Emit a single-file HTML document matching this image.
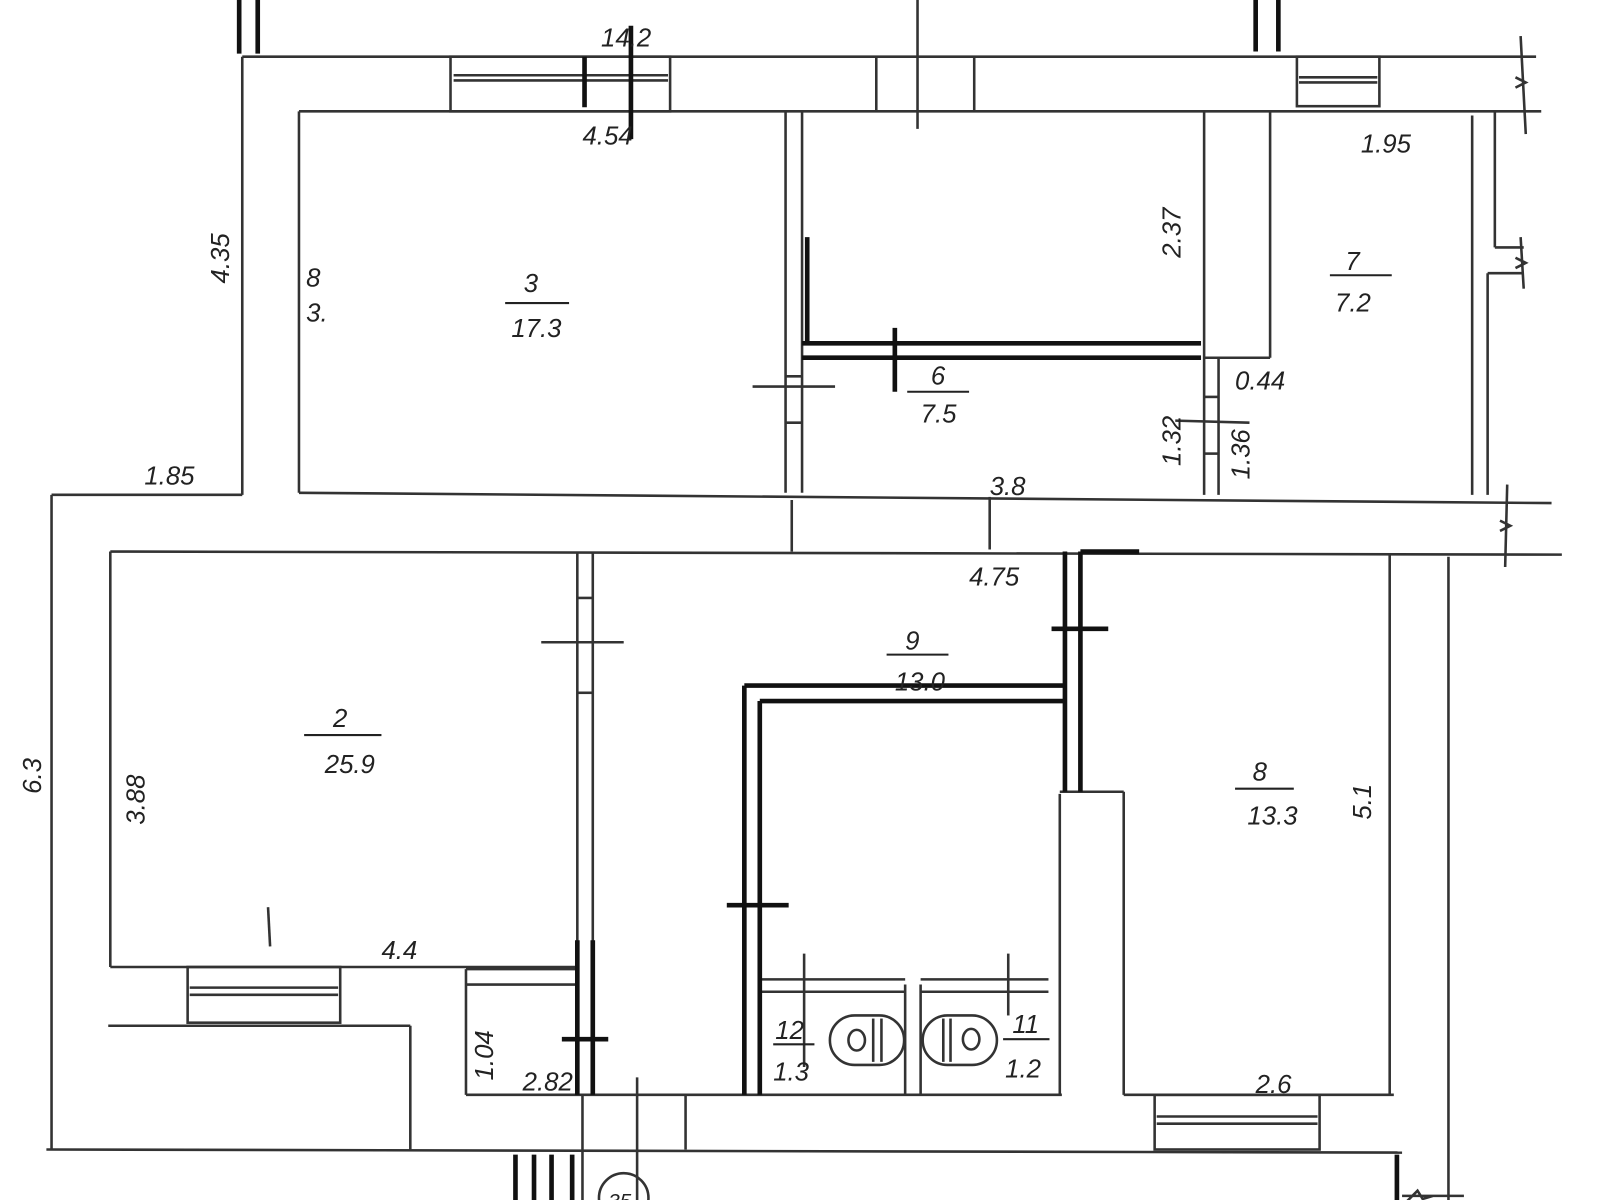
<!DOCTYPE html>
<html><head><meta charset="utf-8"><style>
html,body{margin:0;padding:0;background:#fff;width:1600px;height:1200px;overflow:hidden}
svg{display:block}
text{font-family:"Liberation Sans",sans-serif;font-style:italic;font-size:25px;fill:#222}
</style></head><body>
<svg width="1600" height="1200" viewBox="0 0 1552 1164" preserveAspectRatio="none">
<rect width="1552" height="1164" fill="#fff"/>
<g stroke="#333" stroke-width="2.5" fill="none">
<!-- top wall -->
<line x1="235" y1="55" x2="1490" y2="55"/>
<line x1="290" y1="108" x2="1495" y2="108"/>
<line x1="235" y1="55" x2="235" y2="480"/>
<line x1="290" y1="108" x2="290" y2="478"/>
<line x1="890" y1="0" x2="890" y2="125"/>
<!-- windows top -->
<rect x="437" y="55" width="213" height="53"/>
<line x1="440" y1="73" x2="648" y2="73"/><line x1="440" y1="78" x2="648" y2="78"/>
<line x1="850" y1="55" x2="850" y2="108"/><line x1="945" y1="55" x2="945" y2="108"/>
<rect x="1258" y="55" width="80" height="48"/>
<line x1="1260" y1="75" x2="1336" y2="75"/><line x1="1260" y1="80" x2="1336" y2="80"/>
<path d="M1475 35 L1480 130 M1470 75 l10 5 l-10 5 M1475 230 L1478 280 M1470 250 l10 5 l-10 5 M1462 470 L1460 550 M1455 505 l10 5 l-10 5"/>
<!-- room3 right partition -->
<line x1="762" y1="108" x2="762" y2="478"/>
<line x1="778" y1="108" x2="778" y2="478"/>
<line x1="1168" y1="108" x2="1168" y2="480"/>
<line x1="1232" y1="108" x2="1232" y2="347"/>
<line x1="1168" y1="347" x2="1232" y2="347"/>
<line x1="1182" y1="347" x2="1182" y2="480"/>
<line x1="1168" y1="385" x2="1182" y2="385"/><line x1="1168" y1="440" x2="1182" y2="440"/>
<line x1="1428" y1="112" x2="1428" y2="480"/>
<line x1="1450" y1="108" x2="1450" y2="240"/><line x1="1450" y1="240" x2="1478" y2="240"/>
<line x1="1443" y1="265" x2="1443" y2="480"/><line x1="1443" y1="265" x2="1478" y2="265"/>
<line x1="730" y1="375" x2="810" y2="375"/>
<line x1="762" y1="365" x2="778" y2="365"/><line x1="762" y1="410" x2="778" y2="410"/>
<line x1="1140" y1="408" x2="1212" y2="410"/>
<!-- corridor -->
<line x1="50" y1="480" x2="235" y2="480"/>
<line x1="290" y1="478" x2="1505" y2="488"/>
<line x1="107" y1="535" x2="1515" y2="538"/>
<line x1="50" y1="480" x2="50" y2="1115"/>
<line x1="107" y1="535" x2="107" y2="938"/>
<line x1="768" y1="485" x2="768" y2="535"/>
<line x1="960" y1="482" x2="960" y2="533"/>
<!-- room 2 -->
<line x1="107" y1="938" x2="558" y2="938"/>
<line x1="560" y1="535" x2="560" y2="938"/>
<line x1="575" y1="535" x2="575" y2="1062"/>
<line x1="560" y1="580" x2="575" y2="580"/><line x1="560" y1="672" x2="575" y2="672"/>
<line x1="525" y1="623" x2="605" y2="623"/>
<line x1="260" y1="880" x2="262" y2="918"/>
<rect x="182" y="938" width="148" height="54"/>
<line x1="184" y1="958" x2="328" y2="958"/><line x1="184" y1="965" x2="328" y2="965"/>
<line x1="105" y1="995" x2="398" y2="995"/><line x1="398" y1="995" x2="398" y2="1115"/>
<line x1="452" y1="940" x2="452" y2="1062"/><line x1="452" y1="955" x2="560" y2="955"/>
<line x1="452" y1="940" x2="558" y2="940"/>
<!-- bottom -->
<line x1="452" y1="1062" x2="1030" y2="1062"/>
<line x1="1090" y1="1062" x2="1352" y2="1062"/>
<line x1="45" y1="1115" x2="1360" y2="1118"/>
<rect x="1120" y="1062" width="160" height="53"/>
<line x1="1122" y1="1083" x2="1278" y2="1083"/><line x1="1122" y1="1090" x2="1278" y2="1090"/>
<line x1="618" y1="1045" x2="618" y2="1176"/>
<line x1="665" y1="1062" x2="665" y2="1115"/>
<line x1="565" y1="1062" x2="565" y2="1176"/>
<circle cx="605" cy="1162" r="24"/>
<!-- room 9 / 8 -->
<line x1="1028" y1="770" x2="1028" y2="1062"/>
<line x1="1028" y1="768" x2="1090" y2="768"/>
<line x1="1090" y1="768" x2="1090" y2="1062"/>
<line x1="1348" y1="538" x2="1348" y2="1062"/>
<line x1="1405" y1="540" x2="1405" y2="1176"/>
<!-- toilets -->
<line x1="737" y1="950" x2="878" y2="950"/><line x1="893" y1="950" x2="1017" y2="950"/>
<line x1="737" y1="962" x2="878" y2="962"/><line x1="893" y1="962" x2="1017" y2="962"/>
<line x1="878" y1="955" x2="878" y2="1062"/><line x1="893" y1="955" x2="893" y2="1062"/>
<line x1="780" y1="925" x2="780" y2="1035"/><line x1="978" y1="925" x2="978" y2="985"/>
<rect x="805" y="985" width="72" height="48" rx="24"/>
<rect x="895" y="985" width="72" height="48" rx="24"/>
<ellipse cx="831" cy="1009" rx="8" ry="10"/><ellipse cx="942" cy="1008" rx="8" ry="10"/>
<line x1="847" y1="988" x2="847" y2="1030"/><line x1="855" y1="988" x2="855" y2="1030"/>
<line x1="915" y1="988" x2="915" y2="1030"/><line x1="922" y1="988" x2="922" y2="1030"/>
<path d="M1365 1165 l10 -10 l5 8 l10 -3 M1360 1160 L1420 1160"/>
</g>
<g stroke="#111" stroke-width="4.5" fill="none">
<line x1="232" y1="0" x2="232" y2="52"/><line x1="250" y1="0" x2="250" y2="52"/>
<line x1="1218" y1="0" x2="1218" y2="50"/><line x1="1240" y1="0" x2="1240" y2="50"/>
<line x1="567" y1="55" x2="567" y2="104"/><line x1="612" y1="25" x2="612" y2="135"/>
<line x1="783" y1="230" x2="783" y2="333"/>
<line x1="778" y1="333" x2="1165" y2="333"/>
<line x1="778" y1="347" x2="1165" y2="347"/>
<line x1="868" y1="318" x2="868" y2="380"/>
<line x1="1033" y1="535" x2="1033" y2="768"/><line x1="1048" y1="535" x2="1048" y2="768"/>
<line x1="1048" y1="535" x2="1105" y2="535"/>
<line x1="1020" y1="610" x2="1075" y2="610"/>
<line x1="722" y1="665" x2="1033" y2="665"/><line x1="737" y1="680" x2="1033" y2="680"/>
<line x1="722" y1="665" x2="722" y2="1062"/><line x1="737" y1="680" x2="737" y2="1062"/>
<line x1="705" y1="878" x2="765" y2="878"/>
<line x1="560" y1="912" x2="560" y2="1062"/><line x1="575" y1="912" x2="575" y2="1062"/>
<line x1="545" y1="1008" x2="590" y2="1008"/>
<line x1="500" y1="1120" x2="500" y2="1176"/><line x1="518" y1="1120" x2="518" y2="1176"/>
<line x1="535" y1="1120" x2="535" y2="1176"/><line x1="555" y1="1120" x2="555" y2="1176"/>
<line x1="1355" y1="1120" x2="1355" y2="1176"/>
</g>
<g stroke="#222" stroke-width="2">
<line x1="490" y1="294" x2="552" y2="294"/>
<line x1="880" y1="380" x2="940" y2="380"/>
<line x1="1290" y1="267" x2="1350" y2="267"/>
<line x1="295" y1="713" x2="370" y2="713"/>
<line x1="860" y1="635" x2="920" y2="635"/>
<line x1="1198" y1="765" x2="1255" y2="765"/>
<line x1="750" y1="1013" x2="790" y2="1013"/>
<line x1="973" y1="1008" x2="1018" y2="1008"/>
</g>
<text x="583" y="45">14.2</text>
<text x="565" y="140">4.54</text>
<text x="1320" y="148">1.95</text>
<text x="140" y="470">1.85</text>
<text x="960" y="480">3.8</text>
<text x="940" y="568">4.75</text>
<text x="370" y="930">4.4</text>
<text x="507" y="1058">2.82</text>
<text x="1218" y="1060">2.6</text>
<text x="1198" y="378">0.44</text>
<text x="508" y="283">3</text><text x="496" y="327">17.3</text>
<text x="903" y="373">6</text><text x="893" y="410">7.5</text>
<text x="1305" y="262">7</text><text x="1295" y="302">7.2</text>
<text x="323" y="705">2</text><text x="315" y="750">25.9</text>
<text x="878" y="630">9</text><text x="868" y="670">13.0</text>
<text x="1215" y="757">8</text><text x="1210" y="800">13.3</text>
<text x="752" y="1008">12</text><text x="750" y="1048">1.3</text>
<text x="982" y="1002">11</text><text x="975" y="1045">1.2</text>
<text x="297" y="278">8</text><text x="297" y="312">3.</text>
<text transform="translate(222,275) rotate(-90)">4.35</text>
<text transform="translate(1145,250) rotate(-90)">2.37</text>
<text transform="translate(1145,452) rotate(-90)">1.32</text>
<text transform="translate(1212,465) rotate(-90)">1.36</text>
<text transform="translate(478,1048) rotate(-90)">1.04</text>
<text transform="translate(140,800) rotate(-90)">3.88</text>
<text transform="translate(40,770) rotate(-90)">6.3</text>
<text transform="translate(1330,795) rotate(-90)">5.1</text>
<text x="590" y="1172" style="font-size:20px">35</text>
</svg>
</body></html>
